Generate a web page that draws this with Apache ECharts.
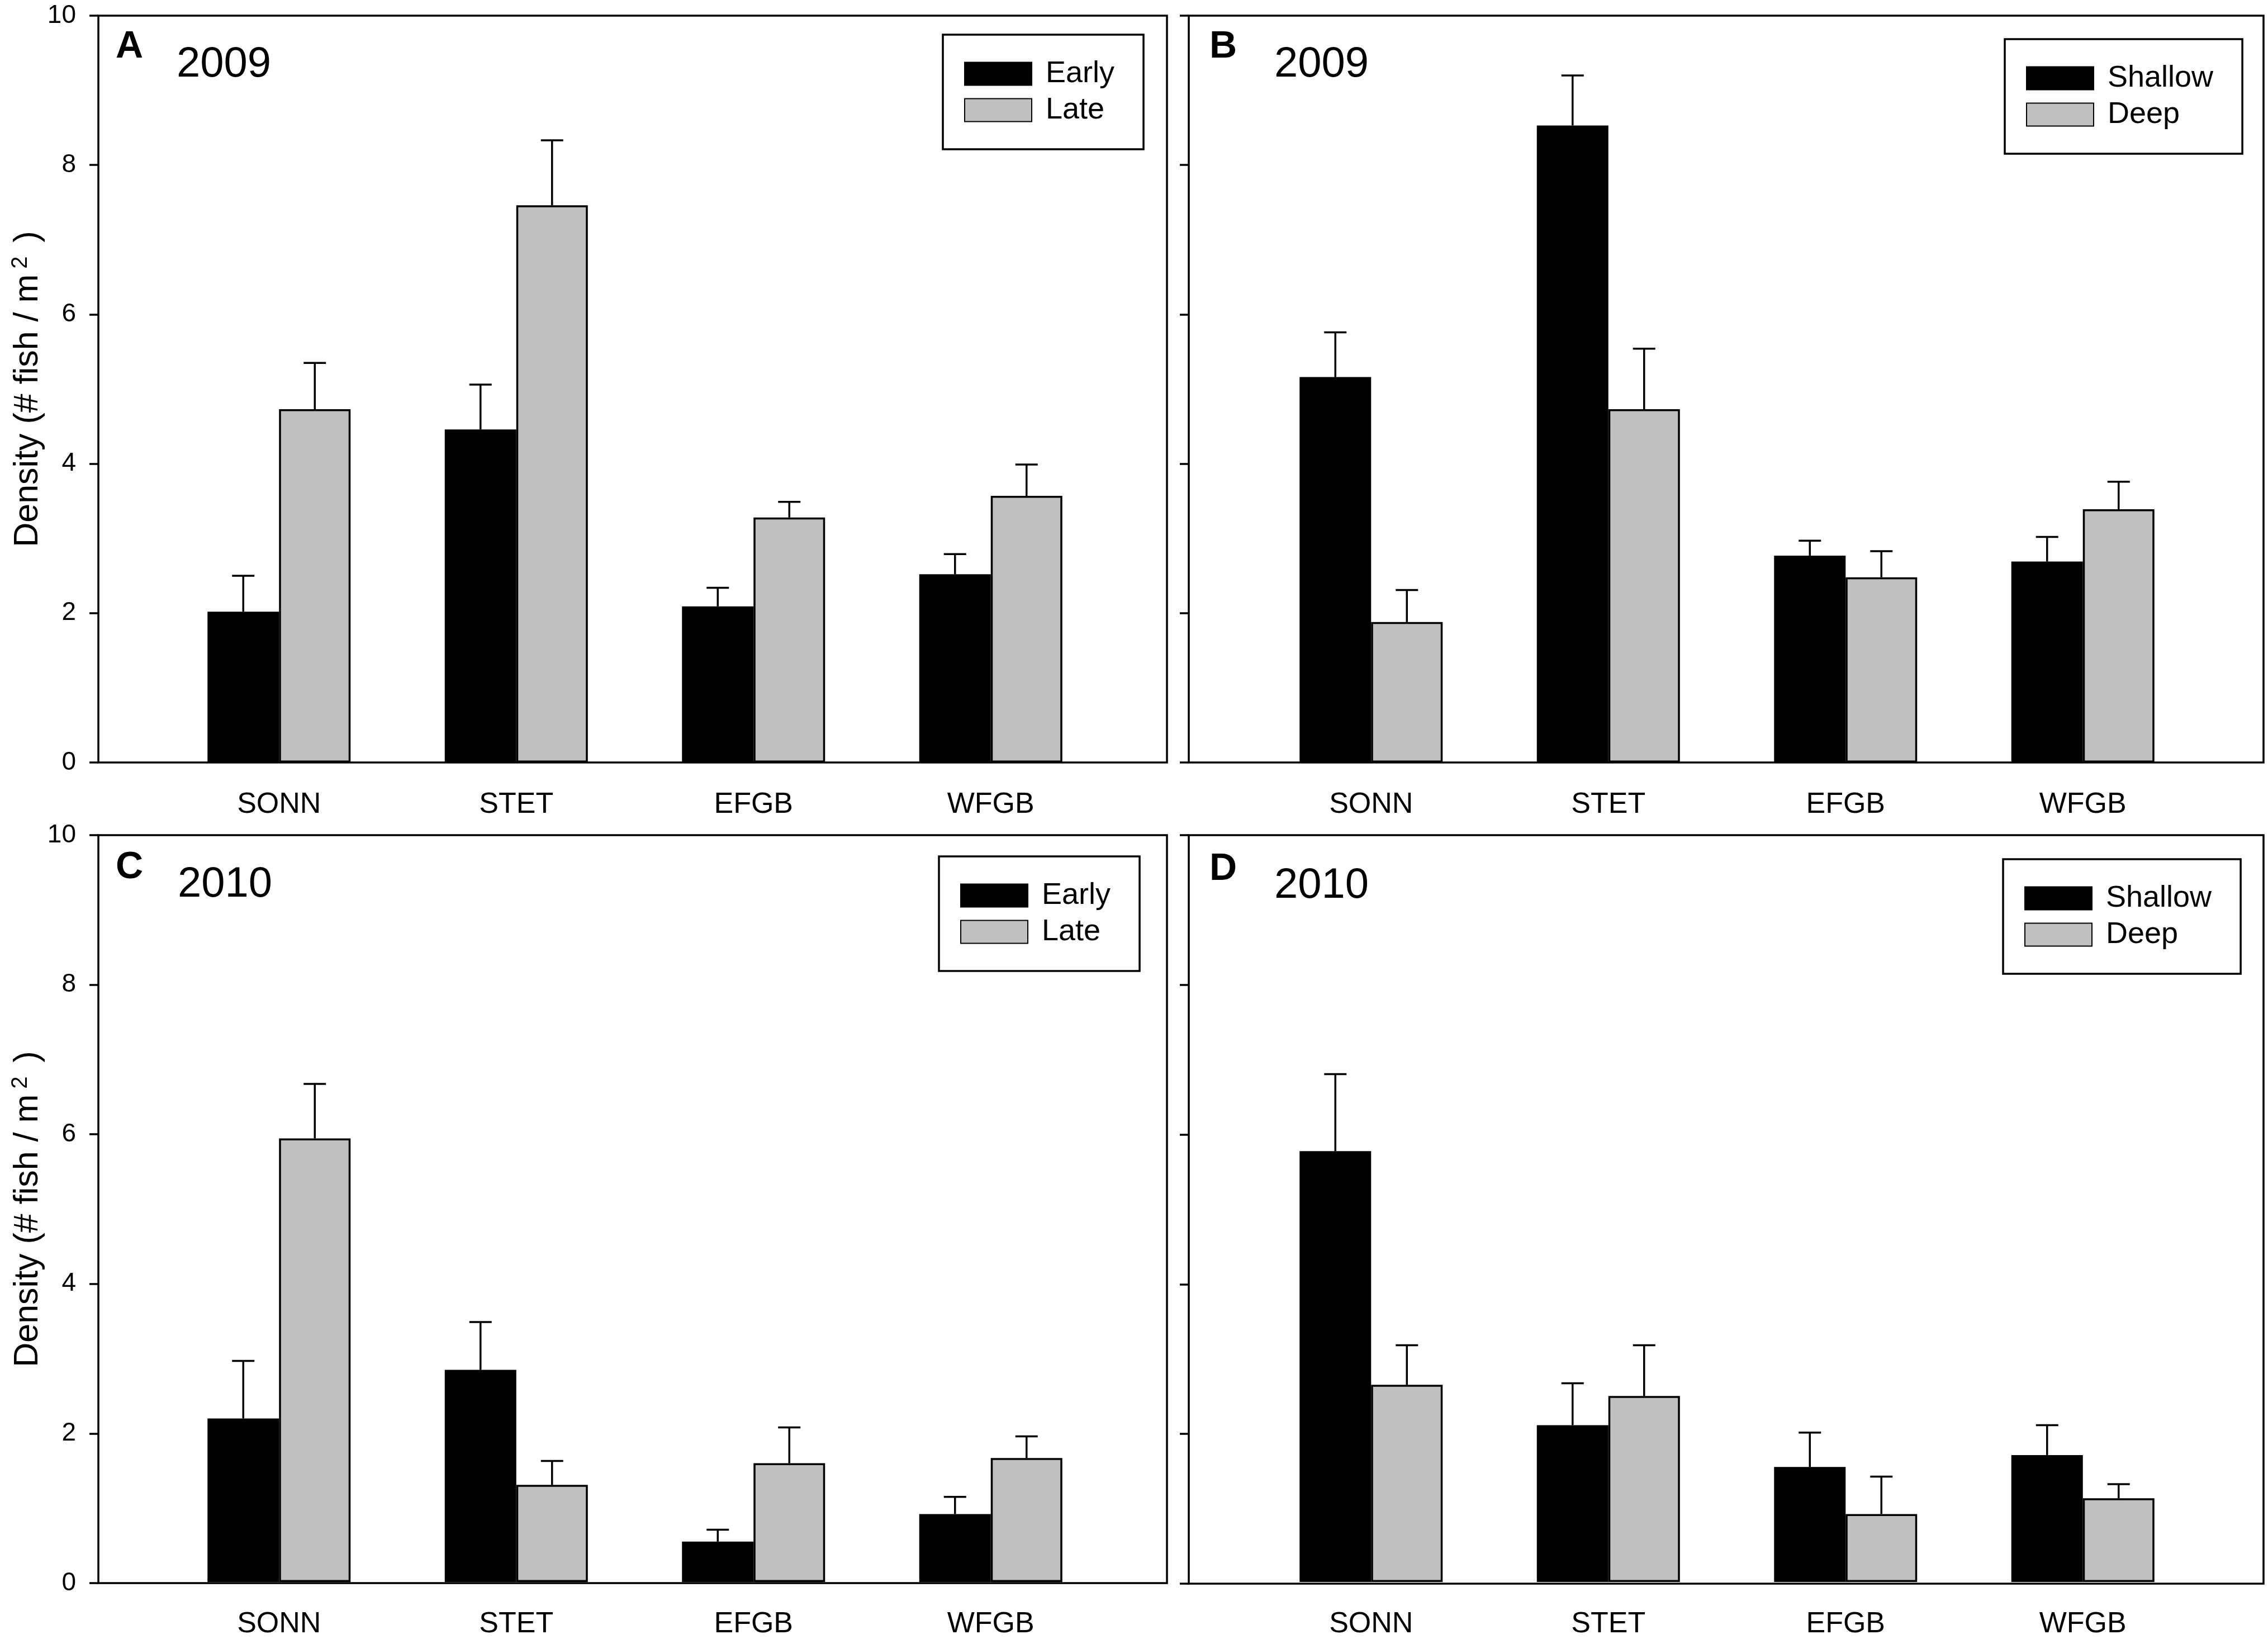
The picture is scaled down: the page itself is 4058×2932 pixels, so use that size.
<!DOCTYPE html>
<html>
<head>
<meta charset="utf-8">
<script src="https://cdn.jsdelivr.net/npm/echarts@6/dist/echarts.min.js"></script>
<style>
html, body { margin: 0; padding: 0; background: #fff; }
#chart { width: 4058px; height: 2932px; }
</style>
</head>
<body>
<div id="chart"></div>
<script>
// sites on the x axis
var sites = ['SONN', 'STET', 'EFGB', 'WFGB'];
// y axis ticks (min, max, step)
var yTicks = [0, 2, 4, 6, 8, 10];

// 2009, early vs late (mean density and SE)
var early2009 = [2.02, 4.46, 2.09, 2.52];
var early2009Se = [0.48, 0.60, 0.25, 0.27];
var late2009 = [4.73, 7.46, 3.28, 3.57];
var late2009Se = [0.62, 0.87, 0.21, 0.42];

// 2009, shallow vs deep
var shallow2009 = [5.16, 8.53, 2.77, 2.69];
var shallow2009Se = [0.60, 0.67, 0.20, 0.33];
var deep2009 = [1.88, 4.73, 2.48, 3.39];
var deep2009Se = [0.43, 0.81, 0.35, 0.37];

// 2010, early vs late
var early2010 = [2.19, 2.84, 0.54, 0.91];
var early2010Se = [0.77, 0.64, 0.16, 0.23];
var late2010 = [5.94, 1.30, 1.59, 1.66];
var late2010Se = [0.73, 0.32, 0.48, 0.29];

// 2010, shallow vs deep
var shallow2010 = [5.77, 2.10, 1.54, 1.70];
var shallow2010Se = [1.03, 0.56, 0.46, 0.40];
var deep2010 = [2.64, 2.49, 0.91, 1.12];
var deep2010Se = [0.53, 0.68, 0.50, 0.19];

var FONT = '"Liberation Sans", Arial, sans-serif';
var BAR_W = 128;
var LW = 3.5;

var panels = [
	{tag: 'A', year: '2009', names: ['Early', 'Late'], vals: [early2009, late2009], se: [early2009Se, late2009Se],
	 frame: [176, 28, 1912, 1336], dataLeft: 287, legend: [1687, 62], tagPos: [207, 50], yearPos: [316, 78], leftPanel: true},
	{tag: 'B', year: '2009', names: ['Shallow', 'Deep'], vals: [shallow2009, deep2009], se: [shallow2009Se, deep2009Se],
	 frame: [2127, 28, 1923, 1336], dataLeft: 2241, legend: [3587, 70], tagPos: [2164, 50], yearPos: [2280, 78], leftPanel: false},
	{tag: 'C', year: '2010', names: ['Early', 'Late'], vals: [early2010, late2010], se: [early2010Se, late2010Se],
	 frame: [176, 1494, 1912, 1338], dataLeft: 287, legend: [1680, 1532], tagPos: [207, 1518], yearPos: [318, 1545], leftPanel: true},
	{tag: 'D', year: '2010', names: ['Shallow', 'Deep'], vals: [shallow2010, deep2010], se: [shallow2010Se, deep2010Se],
	 frame: [2127, 1494, 1923, 1339], dataLeft: 2241, legend: [3584, 1537], tagPos: [2164, 1521], yearPos: [2280, 1547], leftPanel: false}
];

function errorBars(offset) {
	return function (params, api) {
		var i = api.value(0), m = api.value(1), s = api.value(2);
		var p0 = api.coord([i, m]);
		var p1 = api.coord([i, m + s]);
		var x = p0[0] + offset;
		var st = {stroke: '#000', lineWidth: LW};
		return {
			type: 'group',
			children: [
				{type: 'line', shape: {x1: x, y1: p0[1], x2: x, y2: p1[1]}, style: st},
				{type: 'line', shape: {x1: x - 20, y1: p1[1], x2: x + 20, y2: p1[1]}, style: st}
			]
		};
	};
}

var grid = [], xAxis = [], yAxis = [], series = [], legend = [], graphic = [];
var yMin = yTicks[0], yMax = yTicks[yTicks.length - 1], yStep = yTicks[1] - yTicks[0];

panels.forEach(function (p, k) {
	var f = p.frame;
	var gf = 2 * k, gd = 2 * k + 1;
	// outer box with y axis
	grid.push({left: f[0], top: f[1], width: f[2], height: f[3], show: true,
		borderColor: '#000', borderWidth: LW, backgroundColor: 'transparent'});
	// inner grid, bands aligned with the site ticks
	grid.push({left: p.dataLeft, top: f[1], width: 1698, height: f[3]});

	xAxis.push({type: 'category', gridIndex: gf, data: sites, show: false});
	xAxis.push({
		type: 'category', gridIndex: gd, data: sites,
		axisLine: {show: false},
		axisTick: {alignWithLabel: true, length: 22, lineStyle: {color: '#000', width: LW}},
		axisLabel: {color: '#000', fontSize: 52, fontFamily: FONT, margin: 50}
	});

	var ya = {
		type: 'value', gridIndex: gf, min: yMin, max: yMax, interval: yStep,
		axisLine: {show: false},
		axisTick: {show: true, inside: false, length: 16, lineStyle: {color: '#000', width: LW}},
		axisLabel: {show: p.leftPanel, color: '#000', fontSize: 46, fontFamily: FONT, margin: 40},
		splitLine: {show: false}
	};
	if (p.leftPanel) {
		ya.name = '{n|Density (# fish / m}{s|2}{n| )}';
		ya.nameLocation = 'middle';
		ya.nameGap = 72;
		ya.nameTextStyle = {
			color: '#000', fontFamily: FONT,
			rich: {
				n: {fontSize: 61, fontFamily: FONT, color: '#000', lineHeight: 66},
				s: {fontSize: 40, fontFamily: FONT, color: '#000', lineHeight: 66, verticalAlign: 'top', padding: [0, 8, 0, 10]}
			}
		};
	}
	yAxis.push(ya);
	yAxis.push({type: 'value', gridIndex: gd, min: yMin, max: yMax, interval: yStep, show: false});

	var colors = ['#000000', '#c0c0c0'];
	p.names.forEach(function (nm, j) {
		series.push({
			name: nm, type: 'bar', xAxisIndex: gd, yAxisIndex: gd,
			data: p.vals[j], barWidth: BAR_W, barGap: '0%',
			itemStyle: {color: colors[j], borderColor: '#000', borderWidth: LW},
			z: 2
		});
	});
	p.names.forEach(function (nm, j) {
		series.push({
			type: 'custom', xAxisIndex: gd, yAxisIndex: gd, z: 3,
			renderItem: errorBars(j === 0 ? -BAR_W / 2 : BAR_W / 2),
			data: p.vals[j].map(function (v, i) { return [i, v, p.se[j][i]]; })
		});
	});

	legend.push({
		orient: 'vertical', left: p.legend[0], top: p.legend[1],
		data: p.names, icon: 'rect', selectedMode: false,
		itemWidth: 120, itemHeight: 41, itemGap: 11,
		padding: [43, 52, 43, 38],
		borderColor: '#000', borderWidth: LW,
		textStyle: {color: '#000', fontSize: 54, fontFamily: FONT, padding: [0, 0, 0, 20]}
	});

	graphic.push({type: 'text', left: p.tagPos[0], top: p.tagPos[1],
		style: {text: p.tag, fill: '#000', font: 'bold 68px ' + FONT}});
	graphic.push({type: 'text', left: p.yearPos[0], top: p.yearPos[1],
		style: {text: p.year, fill: '#000', font: '76px ' + FONT}});
});

var s = echarts.init(document.getElementById('chart'));
s.setOption({
	animation: false,
	backgroundColor: '#fff',
	grid: grid,
	xAxis: xAxis,
	yAxis: yAxis,
	legend: legend,
	graphic: graphic,
	series: series
});
</script>
</body>
</html>
